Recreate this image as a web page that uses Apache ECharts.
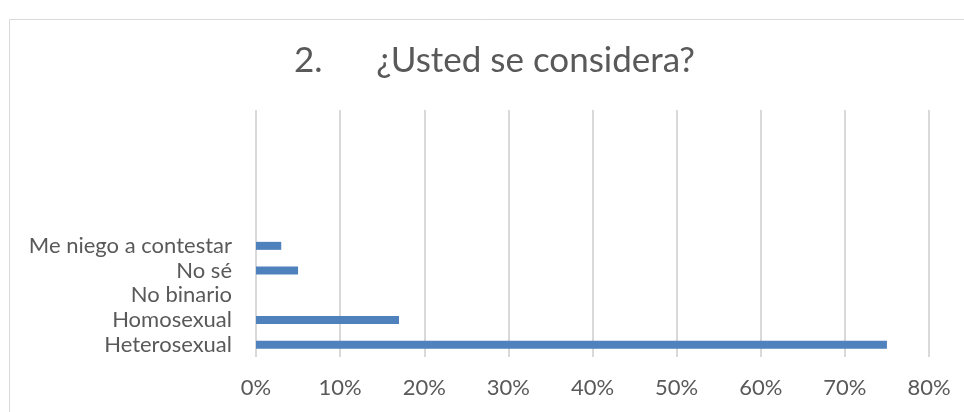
<!DOCTYPE html>
<html>
<head>
<meta charset="utf-8">
<script src="https://cdn.jsdelivr.net/npm/echarts@6/dist/echarts.min.js"></script>
<style>
  html, body { margin: 0; padding: 0; background: #fff; }
  #chart { width: 964px; height: 412px; }
</style>
</head>
<body>
<div id="chart"></div>
<script>
// Answer options, bottom to top; the upper slots of the axis stay empty
const categories = ['Heterosexual', 'Homosexual', 'No binario', 'No sé', 'Me niego a contestar', '', '', '', '', ''];
// Share of respondents (%) per answer
const shares = [75, 17, 0, 5, 3, null, null, null, null, null];
// Value axis ticks (%)
const tickValues = [0, 10, 20, 30, 40, 50, 60, 70, 80];

const chart = echarts.init(document.getElementById('chart'));
const font = 'Lato, "Open Sans", sans-serif';

chart.setOption({
  backgroundColor: '#ffffff',
  animation: false,
  title: {
    text: '2.      ¿Usted se considera?',
    left: 289,
    top: 38,
    textStyle: { fontFamily: font, fontSize: 35, fontWeight: 'normal', color: '#595959' }
  },
  graphic: [{
    type: 'rect',
    shape: { x: 9.5, y: 19.5, width: 1000, height: 500 },
    style: { fill: 'none', stroke: '#d9d9d9', lineWidth: 1 },
    silent: true
  }],
  grid: { left: 256, right: 35, top: 110, bottom: 55, containLabel: false },
  xAxis: {
    type: 'value',
    min: tickValues[0],
    max: tickValues[tickValues.length - 1],
    interval: 10,
    axisLine: { show: false },
    axisTick: { show: false },
    splitLine: { show: true, lineStyle: { color: '#d9d9d9', width: 2 } },
    axisLabel: {
      formatter: v => v + '%',
      margin: 20,
      fontFamily: font, fontSize: 22, color: '#595959'
    }
  },
  yAxis: {
    type: 'category',
    data: categories,
    axisLine: { show: false },
    axisTick: { show: false },
    splitLine: { show: false },
    axisLabel: {
      interval: 0,
      margin: 24,
      fontFamily: font, fontSize: 22, color: '#595959'
    }
  },
  series: [{
    type: 'bar',
    data: shares,
    barWidth: 8,
    itemStyle: { color: '#4f81bd' }
  }]
});
</script>
</body>
</html>
